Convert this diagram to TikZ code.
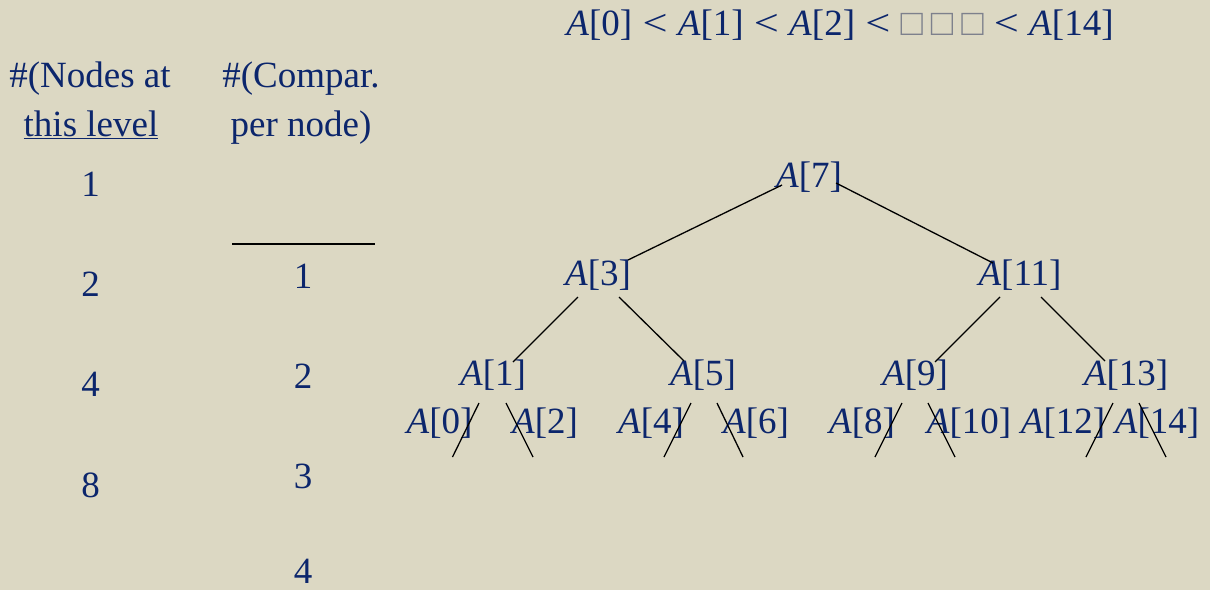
\documentclass[tikz,border=0pt]{standalone}
\usepackage{fontspec}
\setmainfont{Liberation Serif}
\definecolor{slidebg}{RGB}{220,216,195}
\definecolor{slideink}{RGB}{12,38,108}
\definecolor{boxgray}{RGB}{125,128,140}
\newcommand{\Ael}[1]{\textit{A}[#1]}
\newcommand{\Alt}{\hspace{1pt}{\scalebox{1.2}[1]{<}}\hspace{1pt}}

\begin{document}
\begin{tikzpicture}[x=1pt,y=-1pt,
  every node/.style={inner sep=0pt,anchor=base,text=slideink,font=\fontsize{37}{44}\selectfont},
  treeedge/.style={draw=black,line width=1.3pt}
]
  % Background
  \fill[slidebg] (0,0) rectangle (1210,590);
  \useasboundingbox (0,0) rectangle (1210,590);

  % Sorted array
  \node (order) at (840,35) {\Ael{0} \Alt{} \Ael{1} \Alt{} \Ael{2} \Alt{} \textcolor{boxgray}{□\hspace{8pt}□\hspace{8pt}□} \Alt{} \Ael{14}};

  % Nodes per level
  \node (nhead1) at (90,87) {\#(Nodes at};
  \node (nhead2) at (91,136) {\underline{this level}};
  \node (n1) at (90.5,196) {1};
  \node (n2) at (90.5,296) {2};
  \node (n4) at (90.5,396) {4};
  \node (n8) at (90.5,497) {8};

  % Comparisons per node
  \node (chead1) at (301,87) {\#(Compar.};
  \node (chead2) at (301,136) {per node)};
  \draw[black,line width=1.3pt] (232,244) -- (375,244);
  \node (c1) at (303,288) {1};
  \node (c2) at (303,388) {2};
  \node (c3) at (303,488) {3};
  \node (c4) at (303,583) {4};

  % Search tree
  \node (a7) at (809,187) {\Ael{7}};
  \node (a3) at (598,285) {\Ael{3}};
  \node (a11) at (1020,285) {\Ael{11}};
  \node (a1) at (493,385) {\Ael{1}};
  \node (a5) at (703,385) {\Ael{5}};
  \node (a9) at (915,385) {\Ael{9}};
  \node (a13) at (1126,385) {\Ael{13}};
  \node (a0) at (439.5,433) {\Ael{0}};
  \node (a2) at (545,433) {\Ael{2}};
  \node (a4) at (651,433) {\Ael{4}};
  \node (a6) at (756,433) {\Ael{6}};
  \node (a8) at (862,433) {\Ael{8}};
  \node (a10) at (969,433) {\Ael{10}};
  \node (a12) at (1063,433) {\Ael{12}};
  \node (a14) at (1157,433) {\Ael{14}};

  % Edges
  \draw[treeedge] ([shift={(-27,-2)}]a7.base) -- ([shift={(30,-25)}]a3.base);
  \draw[treeedge] ([shift={(27,-4)}]a7.base) -- ([shift={(-27,-22)}]a11.base);
  \draw[treeedge] ([shift={(-20,12)}]a3.base) -- ([shift={(20,-23)}]a1.base);
  \draw[treeedge] ([shift={(21,12)}]a3.base) -- ([shift={(-19,-24)}]a5.base);
  \draw[treeedge] ([shift={(-20,12)}]a11.base) -- ([shift={(20,-23)}]a9.base);
  \draw[treeedge] ([shift={(21,12)}]a11.base) -- ([shift={(-21,-24)}]a13.base);
  \draw[treeedge] ([shift={(-14,18)}]a1.base) -- ([shift={(13,24)}]a0.base);
  \draw[treeedge] ([shift={(13,18)}]a1.base) -- ([shift={(-12,24)}]a2.base);
  \draw[treeedge] ([shift={(-12,18)}]a5.base) -- ([shift={(13,24)}]a4.base);
  \draw[treeedge] ([shift={(14,18)}]a5.base) -- ([shift={(-13,24)}]a6.base);
  \draw[treeedge] ([shift={(-13,18)}]a9.base) -- ([shift={(13,24)}]a8.base);
  \draw[treeedge] ([shift={(13,18)}]a9.base) -- ([shift={(-14,24)}]a10.base);
  \draw[treeedge] ([shift={(-13,18)}]a13.base) -- ([shift={(23,24)}]a12.base);
  \draw[treeedge] ([shift={(13,18)}]a13.base) -- ([shift={(9,24)}]a14.base);
\end{tikzpicture}
\end{document}
